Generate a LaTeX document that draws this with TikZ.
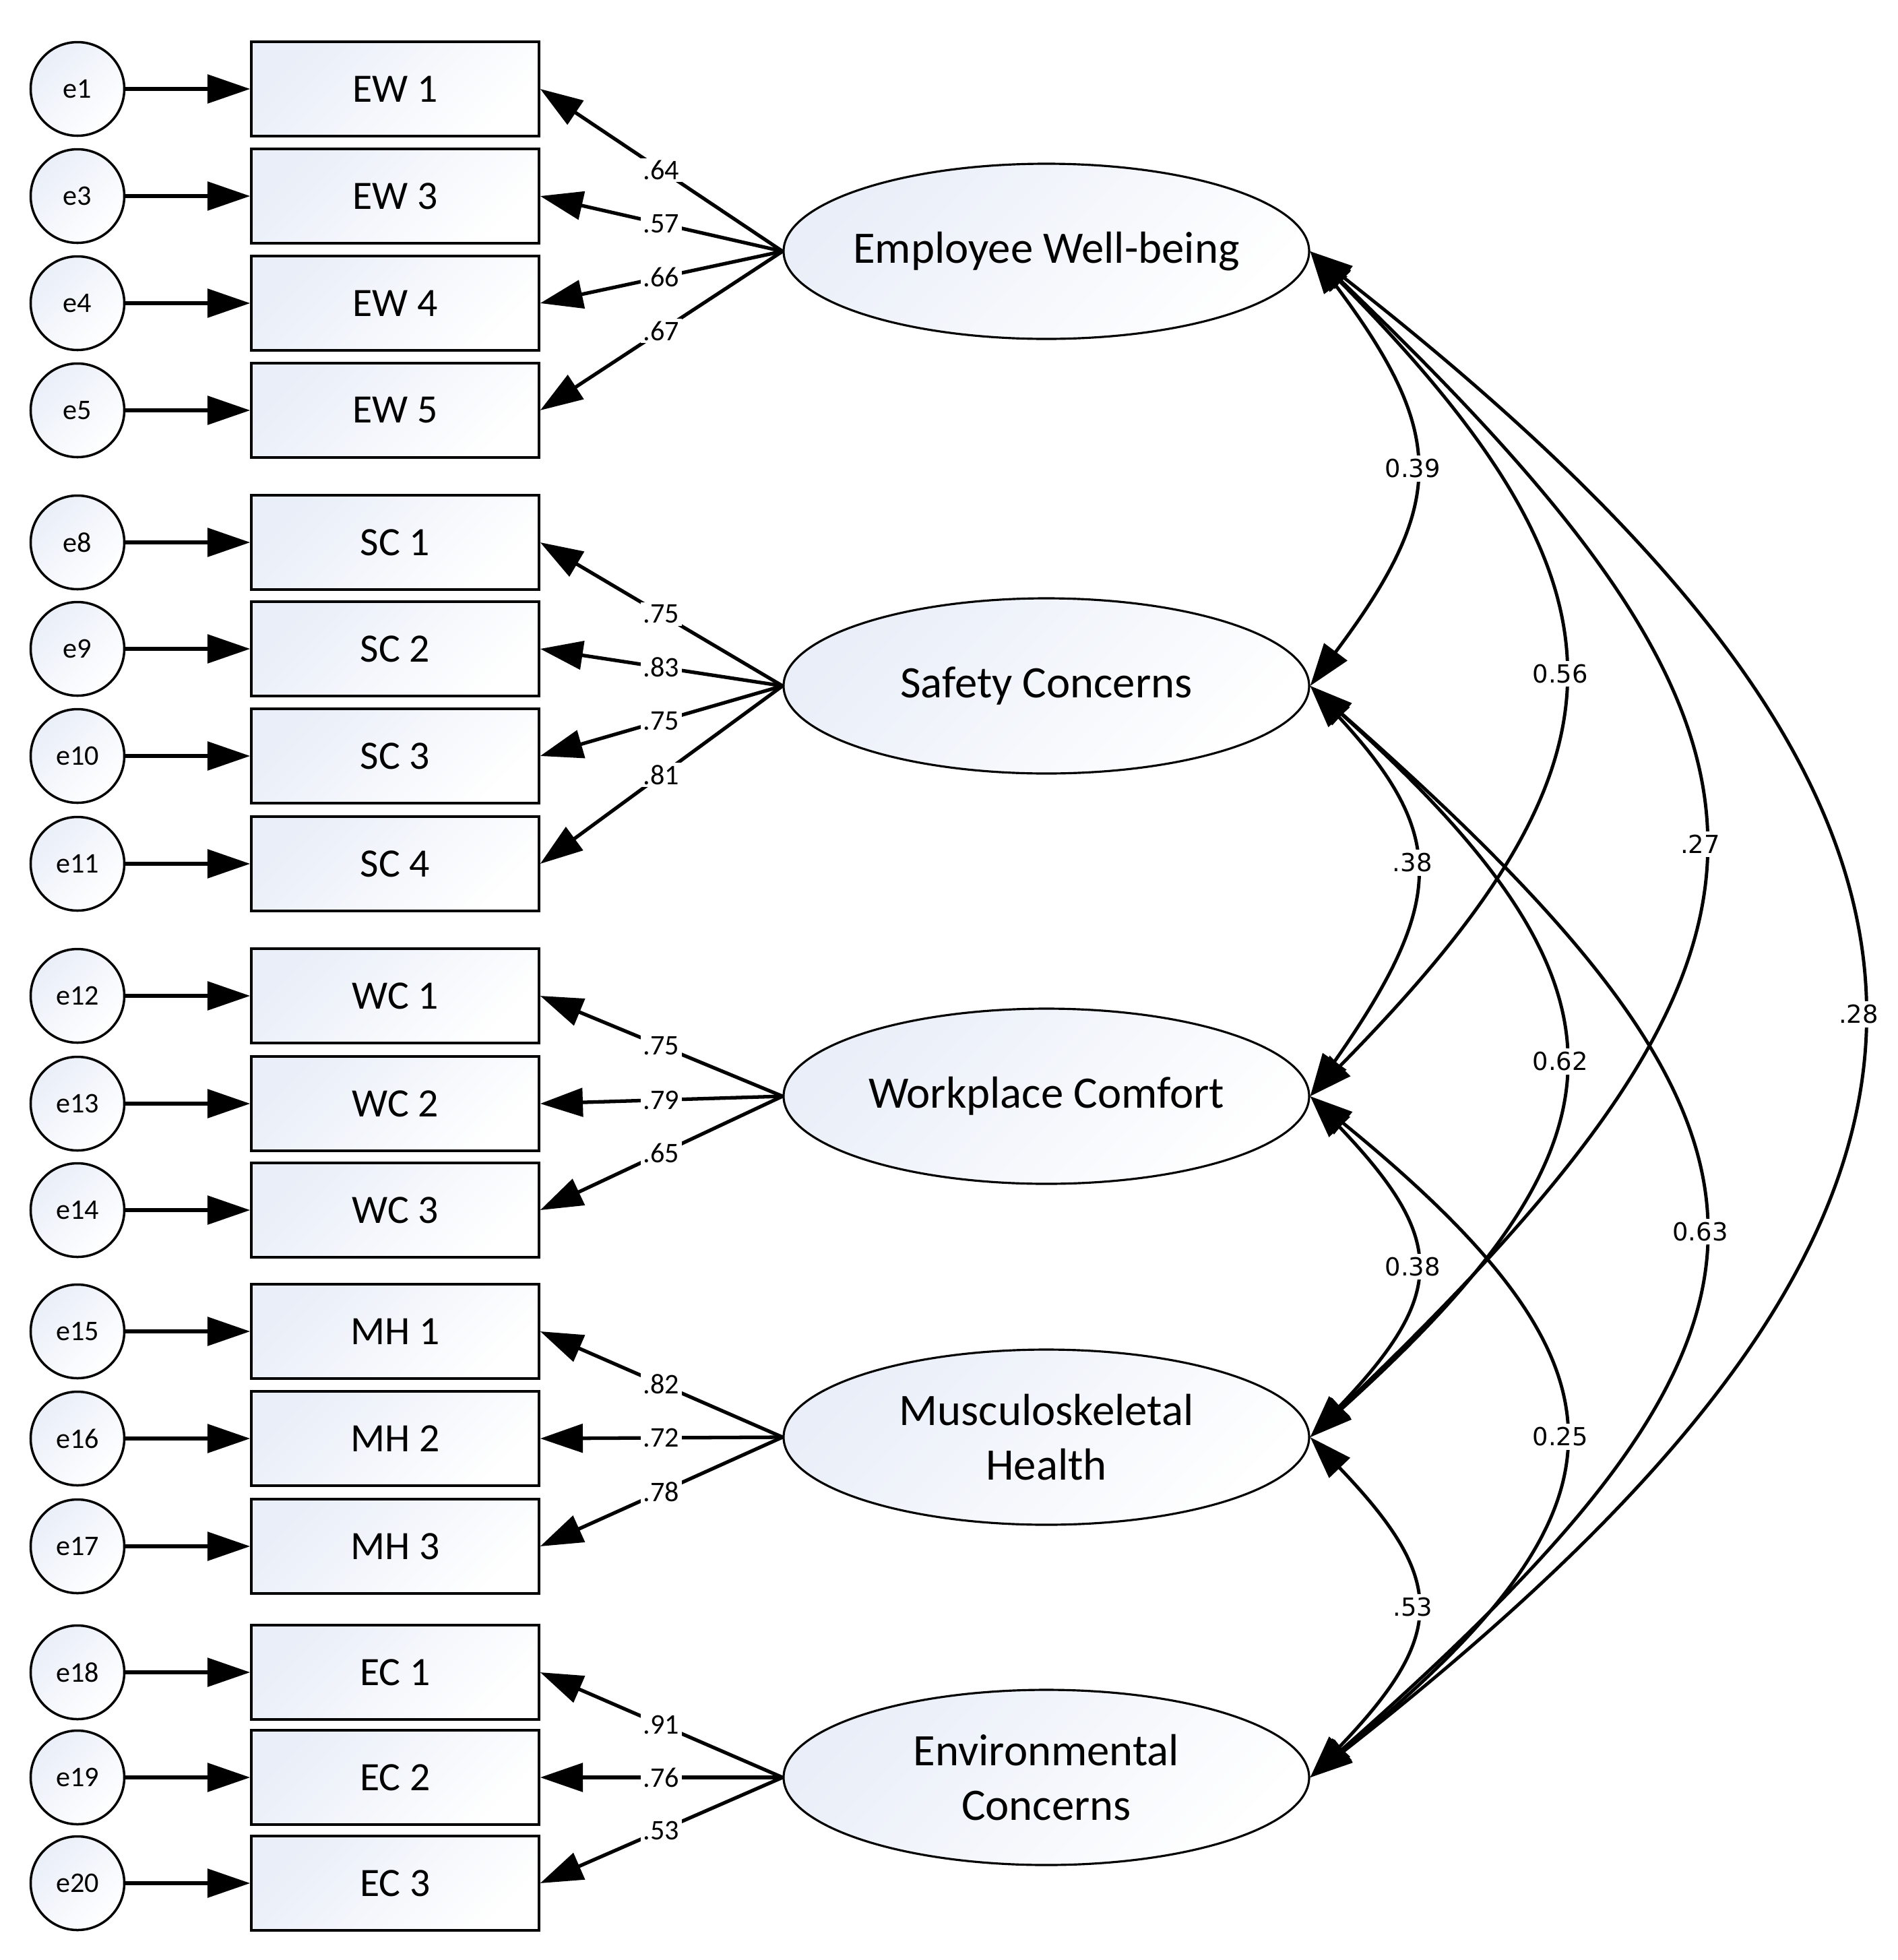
\documentclass[tikz,border=0pt]{standalone}
\usepackage{fontspec}
\setmainfont{Carlito}
\newfontfamily\dejavu{DejaVu Sans}
\usetikzlibrary{shapes.geometric,arrows.meta}
\definecolor{itemfill}{HTML}{E9EEF8}
\tikzset{
    item/.style={draw,line width=1pt,minimum width=4.27cm,minimum height=1.40cm,inner sep=0pt,top color=itemfill,bottom color=white,shading angle=45,font=\fontsize{17}{20}\selectfont},
    err/.style={draw,circle,line width=1pt,minimum size=1.39cm,inner sep=0pt,top color=itemfill,bottom color=white,shading angle=45,font=\fontsize{12}{14}\selectfont},
    factor/.style={draw,ellipse,line width=0.9pt,minimum width=7.8cm,minimum height=2.6cm,inner xsep=-0.6cm,inner ysep=0pt,align=center,top color=itemfill,bottom color=white,shading angle=45,font=\fontsize{19}{23}\selectfont},
    arr/.style={line width=1.5pt,-{Triangle[length=18pt,width=12pt]}},
    cov/.style={line width=1.4pt,{Triangle[length=18pt,width=12pt]}-{Triangle[length=18pt,width=12pt]}},
    loadlab/.style={fill=white,inner sep=1pt,font=\fontsize{12}{14}\selectfont},
    covlab/.style={fill=white,inner sep=1.5pt,font=\dejavu\fontsize{10.5}{12}\selectfont}
}
\begin{document}
\begin{tikzpicture}
                \useasboundingbox (0,0) rectangle (28.16,-29.09);
                \node[err] (e1) at (1.15,-1.32) {e1};
                \node[err] (e3) at (1.15,-2.91) {e3};
                \node[err] (e4) at (1.15,-4.50) {e4};
                \node[err] (e5) at (1.15,-6.09) {e5};
                \node[err] (e8) at (1.15,-8.05) {e8};
                \node[err] (e9) at (1.15,-9.63) {e9};
                \node[err] (e10) at (1.15,-11.22) {e10};
                \node[err] (e11) at (1.15,-12.82) {e11};
                \node[err] (e12) at (1.15,-14.78) {e12};
                \node[err] (e13) at (1.15,-16.38) {e13};
                \node[err] (e14) at (1.15,-17.96) {e14};
                \node[err] (e15) at (1.15,-19.76) {e15};
                \node[err] (e16) at (1.15,-21.35) {e16};
                \node[err] (e17) at (1.15,-22.95) {e17};
                \node[err] (e18) at (1.15,-24.82) {e18};
                \node[err] (e19) at (1.15,-26.38) {e19};
                \node[err] (e20) at (1.15,-27.95) {e20};
                \node[item] (ew1) at (5.865,-1.32) {EW 1};
                \node[item] (ew3) at (5.865,-2.91) {EW 3};
                \node[item] (ew4) at (5.865,-4.50) {EW 4};
                \node[item] (ew5) at (5.865,-6.09) {EW 5};
                \node[item] (sc1) at (5.865,-8.05) {SC 1};
                \node[item] (sc2) at (5.865,-9.63) {SC 2};
                \node[item] (sc3) at (5.865,-11.22) {SC 3};
                \node[item] (sc4) at (5.865,-12.82) {SC 4};
                \node[item] (wc1) at (5.865,-14.78) {WC 1};
                \node[item] (wc2) at (5.865,-16.38) {WC 2};
                \node[item] (wc3) at (5.865,-17.96) {WC 3};
                \node[item] (mh1) at (5.865,-19.76) {MH 1};
                \node[item] (mh2) at (5.865,-21.35) {MH 2};
                \node[item] (mh3) at (5.865,-22.95) {MH 3};
                \node[item] (ec1) at (5.865,-24.82) {EC 1};
                \node[item] (ec2) at (5.865,-26.38) {EC 2};
                \node[item] (ec3) at (5.865,-27.95) {EC 3};
                \node[factor] (ew) at (15.53,-3.73) {Employee Well-being};
                \node[factor] (sc) at (15.53,-10.18) {Safety Concerns};
                \node[factor] (wc) at (15.53,-16.27) {Workplace Comfort};
                \node[factor] (mh) at (15.53,-21.33) {Musculoskeletal\\Health};
                \node[factor] (ec) at (15.53,-26.38) {Environmental\\Concerns};
                \draw[arr] (e1) -- (ew1);
                \draw[arr] (e3) -- (ew3);
                \draw[arr] (e4) -- (ew4);
                \draw[arr] (e5) -- (ew5);
                \draw[arr] (e8) -- (sc1);
                \draw[arr] (e9) -- (sc2);
                \draw[arr] (e10) -- (sc3);
                \draw[arr] (e11) -- (sc4);
                \draw[arr] (e12) -- (wc1);
                \draw[arr] (e13) -- (wc2);
                \draw[arr] (e14) -- (wc3);
                \draw[arr] (e15) -- (mh1);
                \draw[arr] (e16) -- (mh2);
                \draw[arr] (e17) -- (mh3);
                \draw[arr] (e18) -- (ec1);
                \draw[arr] (e19) -- (ec2);
                \draw[arr] (e20) -- (ec3);
                \draw[arr] (ew.west) -- node[loadlab] {.64} (ew1.east);
                \draw[arr] (ew.west) -- node[loadlab] {.57} (ew3.east);
                \draw[arr] (ew.west) -- node[loadlab] {.66} (ew4.east);
                \draw[arr] (ew.west) -- node[loadlab] {.67} (ew5.east);
                \draw[arr] (sc.west) -- node[loadlab] {.75} (sc1.east);
                \draw[arr] (sc.west) -- node[loadlab] {.83} (sc2.east);
                \draw[arr] (sc.west) -- node[loadlab] {.75} (sc3.east);
                \draw[arr] (sc.west) -- node[loadlab] {.81} (sc4.east);
                \draw[arr] (wc.west) -- node[loadlab] {.75} (wc1.east);
                \draw[arr] (wc.west) -- node[loadlab] {.79} (wc2.east);
                \draw[arr] (wc.west) -- node[loadlab] {.65} (wc3.east);
                \draw[arr] (mh.west) -- node[loadlab] {.82} (mh1.east);
                \draw[arr] (mh.west) -- node[loadlab] {.72} (mh2.east);
                \draw[arr] (mh.west) -- node[loadlab] {.78} (mh3.east);
                \draw[arr] (ec.west) -- node[loadlab] {.91} (ec1.east);
                \draw[arr] (ec.west) -- node[loadlab] {.76} (ec2.east);
                \draw[arr] (ec.west) -- node[loadlab] {.53} (ec3.east);
                \draw[cov] (ew.east) .. controls +(2.03,-2.71) and +(2.03,2.71) .. (sc.east) node[covlab,pos=0.5] {0.39};
                \draw[cov] (ew.east) .. controls +(4.95,-5.02) and +(4.95,5.02) .. (wc.east) node[covlab,pos=0.5] {0.56};
                \draw[cov] (ew.east) .. controls +(7.72,-7.39) and +(7.72,7.39) .. (mh.east) node[covlab,pos=0.5] {.27};
                \draw[cov] (ew.east) .. controls +(10.85,-8.49) and +(10.85,8.49) .. (ec.east) node[covlab,pos=0.5] {.28};
                \draw[cov] (sc.east) .. controls +(2.03,-2.2) and +(2.03,2.9) .. (wc.east) node[covlab,pos=0.47] {.38};
                \draw[cov] (sc.east) .. controls +(4.95,-4.46) and +(4.95,4.46) .. (mh.east) node[covlab,pos=0.5] {0.62};
                \draw[cov] (sc.east) .. controls +(7.72,-6.80) and +(7.72,6.80) .. (ec.east) node[covlab,pos=0.5] {0.63};
                \draw[cov] (wc.east) .. controls +(2.03,-2.13) and +(2.03,2.13) .. (mh.east) node[covlab,pos=0.5] {0.38};
                \draw[cov] (wc.east) .. controls +(4.95,-4.04) and +(4.95,4.04) .. (ec.east) node[covlab,pos=0.5] {0.25};
                \draw[cov] (mh.east) .. controls +(2.03,-2.12) and +(2.03,2.12) .. (ec.east) node[covlab,pos=0.5] {.53};
            \end{tikzpicture}
\end{document}
